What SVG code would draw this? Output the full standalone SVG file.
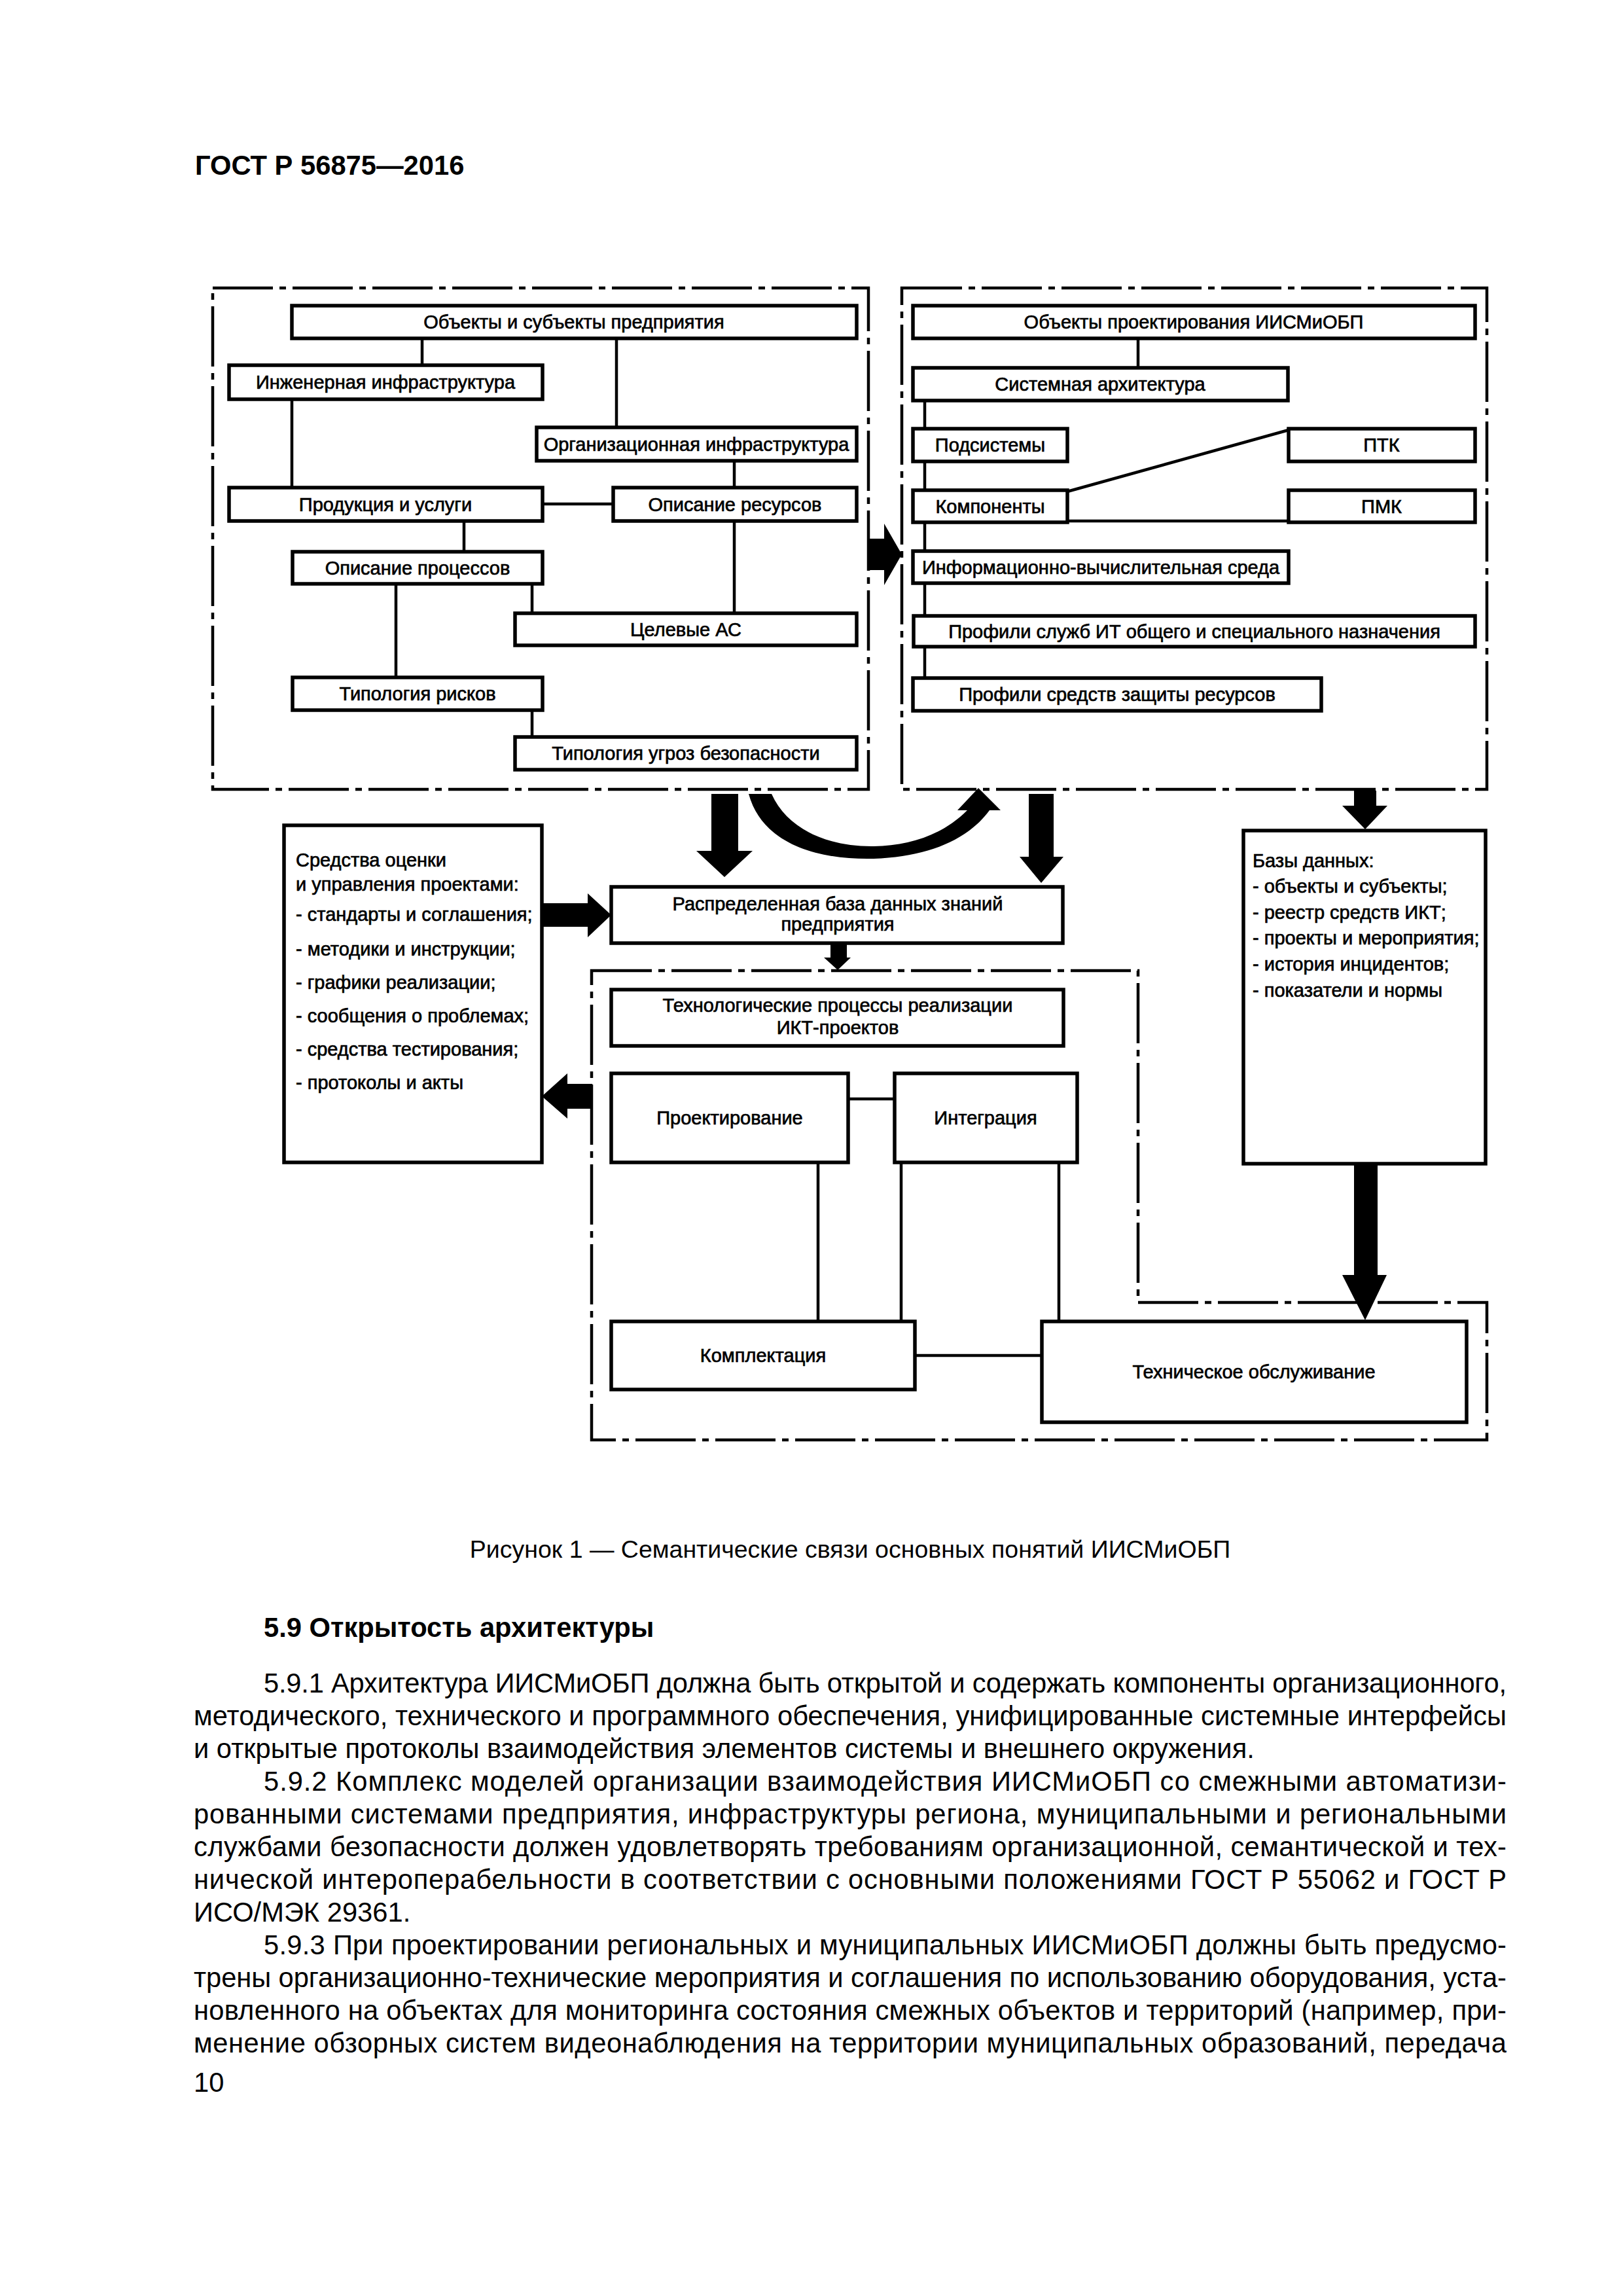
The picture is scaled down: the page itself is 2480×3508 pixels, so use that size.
<svg xmlns="http://www.w3.org/2000/svg" width="2480" height="3508" viewBox="0 0 2480 3508">
<style>
text { font-family: "Liberation Sans", Arial, sans-serif; fill: #000; }
.box { fill: #fff; stroke: #000; stroke-width: 5.5; }
.frame { fill: none; stroke: #000; stroke-width: 4.5; stroke-dasharray: 92 10 10 10; }
.ln { fill: none; stroke: #000; stroke-width: 4.5; }
.arr { fill: #000; stroke: none; }
.lbl { font-size: 29px; text-anchor: middle; stroke: #000; stroke-width: 0.7; }
.lst { font-size: 29px; stroke: #000; stroke-width: 0.7; }
.body { font-size: 41.7px; }
</style>
<rect x="0" y="0" width="2480" height="3508" fill="#fff"/>
<text x="298" y="267" style="font-size:41.7px;font-weight:bold">ГОСТ Р 56875—2016</text>

<g id="containers">
  <rect id="frame-enterprise" class="frame" x="325" y="440" width="1002" height="766"/>
  <rect id="frame-design" class="frame" x="1378" y="440" width="894" height="766"/>
  <path id="frame-processes" class="frame" d="M904,1483 L1739,1483 L1739,1990 L2272,1990 L2272,2200 L904,2200 Z"/>
</g>

<g id="connectors">
  <line class="ln" x1="645" y1="517" x2="645" y2="558"/>
  <line class="ln" x1="942" y1="517" x2="942" y2="653"/>
  <line class="ln" x1="446" y1="610" x2="446" y2="745"/>
  <line class="ln" x1="1122" y1="704" x2="1122" y2="745"/>
  <line class="ln" x1="829" y1="770" x2="937" y2="770"/>
  <line class="ln" x1="709" y1="796" x2="709" y2="843"/>
  <line class="ln" x1="1122" y1="796" x2="1122" y2="937"/>
  <line class="ln" x1="605" y1="892" x2="605" y2="1035"/>
  <line class="ln" x1="813" y1="892" x2="813" y2="937"/>
  <line class="ln" x1="813" y1="1085" x2="813" y2="1126"/>
  <line class="ln" x1="1739" y1="517" x2="1739" y2="562"/>
  <line class="ln" x1="1413" y1="612" x2="1413" y2="1036"/>
  <line class="ln" x1="1631" y1="751" x2="1969" y2="657"/>
  <line class="ln" x1="1631" y1="796" x2="1969" y2="796"/>
  <line class="ln" x1="1296" y1="1679" x2="1367" y2="1679"/>
  <line class="ln" x1="1250" y1="1776" x2="1250" y2="2019"/>
  <line class="ln" x1="1377" y1="1776" x2="1377" y2="2019"/>
  <line class="ln" x1="1618" y1="1776" x2="1618" y2="2019"/>
  <line class="ln" x1="1398" y1="2071" x2="1592" y2="2071"/>
  <polygon class="arr" points="1327,823 1351,823 1351,800 1378,847 1351,894 1351,871 1327,871"/>
  <polygon class="arr" points="1087,1213 1128,1213 1128,1300 1150,1300 1107,1340 1064,1300 1087,1300"/>
  <polygon class="arr" points="1572,1213 1610,1213 1610,1309 1625,1309 1591,1349 1558,1309 1572,1309"/>
  <polygon class="arr" points="2069,1208 2103,1208 2103,1231 2120,1231 2086,1267 2051,1231 2069,1231"/>
  <polygon class="arr" points="828,1380 898,1380 898,1365 934,1398 898,1432 898,1416 828,1416"/>
  <polygon class="arr" points="1269,1441 1294,1441 1294,1463 1300,1463 1280,1482 1259,1463 1269,1463"/>
  <polygon class="arr" points="905,1656 905,1694 867,1694 867,1709 828,1675 867,1640 867,1656"/>
  <polygon class="arr" points="2069,1778 2105,1778 2105,1948 2119,1948 2086,2017 2051,1948 2069,1948"/>
  <path class="arr" d="M1144,1213 C1165,1290 1250,1314 1335,1312 C1420,1309 1480,1282 1512,1238 L1529,1238 L1495,1204 L1463,1238 L1478,1238 C1440,1276 1390,1292 1335,1293 C1262,1294 1202,1265 1179,1213 Z"/>
</g>

<g id="n-objects-subjects"><rect class="box" x="446" y="467" width="863" height="50"/><text class="lbl" x="877" y="502">Объекты и субъекты предприятия</text></g>
<g id="n-eng-infra"><rect class="box" x="350" y="558" width="479" height="52"/><text class="lbl" x="589" y="594">Инженерная инфраструктура</text></g>
<g id="n-org-infra"><rect class="box" x="820" y="653" width="489" height="51"/><text class="lbl" x="1064" y="689">Организационная инфраструктура</text></g>
<g id="n-products"><rect class="box" x="350" y="745" width="479" height="51"/><text class="lbl" x="589" y="781">Продукция и услуги</text></g>
<g id="n-resources"><rect class="box" x="937" y="745" width="372" height="51"/><text class="lbl" x="1123" y="781">Описание ресурсов</text></g>
<g id="n-processes"><rect class="box" x="447" y="843" width="382" height="49"/><text class="lbl" x="638" y="878">Описание процессов</text></g>
<g id="n-target-as"><rect class="box" x="787" y="937" width="522" height="49"/><text class="lbl" x="1048" y="972">Целевые АС</text></g>
<g id="n-risks"><rect class="box" x="447" y="1035" width="382" height="50"/><text class="lbl" x="638" y="1070">Типология рисков</text></g>
<g id="n-threats"><rect class="box" x="787" y="1126" width="522" height="50"/><text class="lbl" x="1048" y="1161">Типология угроз безопасности</text></g>

<g id="n-design-objects"><rect class="box" x="1395" y="467" width="859" height="50"/><text class="lbl" x="1824" y="502">Объекты проектирования ИИСМиОБП</text></g>
<g id="n-sys-arch"><rect class="box" x="1395" y="562" width="573" height="50"/><text class="lbl" x="1681" y="597">Системная архитектура</text></g>
<g id="n-subsystems"><rect class="box" x="1395" y="655" width="236" height="50"/><text class="lbl" x="1513" y="690">Подсистемы</text></g>
<g id="n-ptk"><rect class="box" x="1969" y="655" width="285" height="50"/><text class="lbl" x="2111" y="690">ПТК</text></g>
<g id="n-components"><rect class="box" x="1395" y="749" width="236" height="49"/><text class="lbl" x="1513" y="784">Компоненты</text></g>
<g id="n-pmk"><rect class="box" x="1969" y="749" width="285" height="49"/><text class="lbl" x="2111" y="784">ПМК</text></g>
<g id="n-info-env"><rect class="box" x="1395" y="842" width="574" height="49"/><text class="lbl" x="1682" y="877">Информационно-вычислительная среда</text></g>
<g id="n-it-profiles"><rect class="box" x="1396" y="941" width="858" height="47"/><text class="lbl" x="1825" y="975">Профили служб ИТ общего и специального назначения</text></g>
<g id="n-protect-profiles"><rect class="box" x="1395" y="1036" width="624" height="50"/><text class="lbl" x="1707" y="1071">Профили средств защиты ресурсов</text></g>

<g id="n-assessment"><rect class="box" x="434" y="1261" width="394" height="515"/>
  <text class="lst" x="452" y="1324">Средства оценки</text>
  <text class="lst" x="452" y="1361">и управления проектами:</text>
  <text class="lst" x="452" y="1407">- стандарты и соглашения;</text>
  <text class="lst" x="452" y="1460">- методики и инструкции;</text>
  <text class="lst" x="452" y="1511">- графики реализации;</text>
  <text class="lst" x="452" y="1562">- сообщения о проблемах;</text>
  <text class="lst" x="452" y="1613">- средства тестирования;</text>
  <text class="lst" x="452" y="1664">- протоколы и акты</text>
</g>
<g id="n-kb"><rect class="box" x="934" y="1355" width="690" height="86"/>
  <text class="lbl" x="1280" y="1391">Распределенная база данных знаний</text>
  <text class="lbl" x="1280" y="1422">предприятия</text>
</g>
<g id="n-databases"><rect class="box" x="1900" y="1269" width="370" height="509"/>
  <text class="lst" x="1914" y="1325">Базы данных:</text>
  <text class="lst" x="1914" y="1364">- объекты и субъекты;</text>
  <text class="lst" x="1914" y="1404">- реестр средств ИКТ;</text>
  <text class="lst" x="1914" y="1443">- проекты и мероприятия;</text>
  <text class="lst" x="1914" y="1483">- история инцидентов;</text>
  <text class="lst" x="1914" y="1523">- показатели и нормы</text>
</g>
<g id="n-tech-processes"><rect class="box" x="934" y="1512" width="691" height="86"/>
  <text class="lbl" x="1280" y="1546">Технологические процессы реализации</text>
  <text class="lbl" x="1280" y="1580">ИКТ-проектов</text>
</g>
<g id="n-design"><rect class="box" x="934" y="1640" width="362" height="136"/><text class="lbl" x="1115" y="1718">Проектирование</text></g>
<g id="n-integration"><rect class="box" x="1367" y="1640" width="279" height="136"/><text class="lbl" x="1506" y="1718">Интеграция</text></g>
<g id="n-kit"><rect class="box" x="934" y="2019" width="464" height="104"/><text class="lbl" x="1166" y="2081">Комплектация</text></g>
<g id="n-maintenance"><rect class="box" x="1592" y="2019" width="649" height="154"/><text class="lbl" x="1916" y="2106">Техническое обслуживание</text></g>

<text x="1299" y="2380" style="font-size:37.5px;text-anchor:middle">Рисунок 1 — Семантические связи основных понятий ИИСМиОБП</text>

<g id="body-text">
  <text x="403" y="2501" style="font-size:41.7px;font-weight:bold">5.9 Открытость архитектуры</text>
  <text class="body" x="403" y="2586" textLength="1899" lengthAdjust="spacing">5.9.1 Архитектура ИИСМиОБП должна быть открытой и содержать компоненты организационного,</text>
  <text class="body" x="296" y="2636" textLength="2006" lengthAdjust="spacing">методического, технического и программного обеспечения, унифицированные системные интерфейсы</text>
  <text class="body" x="296" y="2686">и открытые протоколы взаимодействия элементов системы и внешнего окружения.</text>
  <text class="body" x="403" y="2736" textLength="1899" lengthAdjust="spacing">5.9.2 Комплекс моделей организации взаимодействия ИИСМиОБП со смежными автоматизи-</text>
  <text class="body" x="296" y="2786" textLength="2006" lengthAdjust="spacing">рованными системами предприятия, инфраструктуры региона, муниципальными и региональными</text>
  <text class="body" x="296" y="2836" textLength="2006" lengthAdjust="spacing">службами безопасности должен удовлетворять требованиям организационной, семантической и тех-</text>
  <text class="body" x="296" y="2886" textLength="2006" lengthAdjust="spacing">нической интероперабельности в соответствии с основными положениями ГОСТ Р 55062 и ГОСТ Р</text>
  <text class="body" x="296" y="2936">ИСО/МЭК 29361.</text>
  <text class="body" x="403" y="2986" textLength="1899" lengthAdjust="spacing">5.9.3 При проектировании региональных и муниципальных ИИСМиОБП должны быть предусмо-</text>
  <text class="body" x="296" y="3036" textLength="2006" lengthAdjust="spacing">трены организационно-технические мероприятия и соглашения по использованию оборудования, уста-</text>
  <text class="body" x="296" y="3086" textLength="2006" lengthAdjust="spacing">новленного на объектах для мониторинга состояния смежных объектов и территорий (например, при-</text>
  <text class="body" x="296" y="3136" textLength="2006" lengthAdjust="spacing">менение обзорных систем видеонаблюдения на территории муниципальных образований, передача</text>
  <text class="body" x="296" y="3196">10</text>
</g>
</svg>
